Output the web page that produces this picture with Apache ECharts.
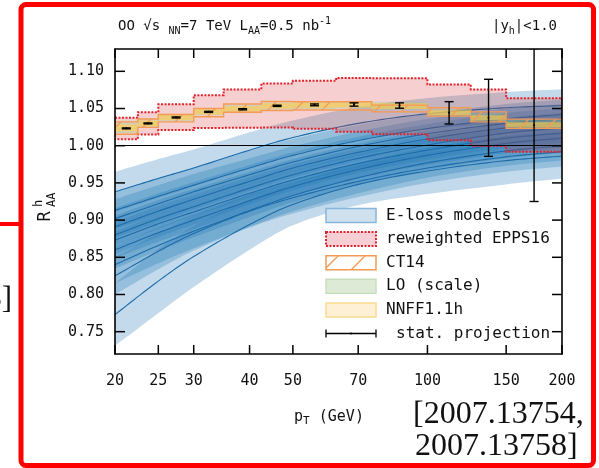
<!DOCTYPE html>
<html><head><meta charset="utf-8">
<script src="https://cdn.jsdelivr.net/npm/echarts@6/dist/echarts.min.js"></script>
<style>html,body{margin:0;padding:0;background:#fff}#c{width:599px;height:468px}</style>
</head><body><div id="c"></div>
<script>
// ---------- data ----------
const xMin = 20, xMax = 200, yMin = 0.72, yMax = 1.13;
const xTicks = [20, 25, 30, 40, 50, 70, 100, 150, 200];
const yTicks = [0.75, 0.80, 0.85, 0.90, 0.95, 1.00, 1.05, 1.10];
const refLine = 1.0;

// pT bins of the step bands
const binEdges = [20, 22.5, 25, 30, 35, 42.5, 50, 62.5, 75, 100, 125, 150, 200];
const eppsLo = [1.0086, 1.0150, 1.0210, 1.0238, 1.0240, 1.0245, 1.0228, 1.0188, 1.0155, 1.0072, 0.9996, 0.9918];
const eppsHi = [1.0375, 1.0451, 1.0556, 1.0679, 1.0757, 1.0836, 1.0872, 1.0911, 1.0908, 1.0822, 1.0757, 1.0639];
const ct14Lo = [1.0155, 1.0246, 1.0320, 1.0390, 1.0450, 1.0474, 1.0480, 1.0480, 1.0455, 1.0398, 1.0320, 1.0233];
const ct14Hi = [1.0320, 1.0360, 1.0420, 1.0500, 1.0560, 1.0595, 1.0590, 1.0590, 1.0545, 1.0510, 1.0455, 1.0357];
const loScaleLo = [1.0165, 1.0250, 1.0330, 1.0410, 1.0455, 1.0485, 1.0495, 1.0500, 1.0480, 1.0400, 1.0330, 1.0238];
const loScaleHi = [1.0335, 1.0370, 1.0430, 1.0485, 1.0550, 1.0580, 1.0590, 1.0590, 1.0590, 1.0495, 1.0440, 1.0350];
const nnffLo = [1.0195, 1.0262, 1.0345, 1.0420, 1.0460, 1.0500, 1.0510, 1.0515, 1.0495, 1.0410, 1.0340, 1.0245];
const nnffHi = [1.0285, 1.0340, 1.0415, 1.0490, 1.0530, 1.0570, 1.0580, 1.0585, 1.0570, 1.0475, 1.0410, 1.0315];

// stat. projection
const statPt  = [21.2, 23.7, 27.4, 32.4, 38.6, 46.1, 55.9, 68.5, 86.6, 111.8, 137.0, 173.2];
const statVal = [1.0233, 1.0300, 1.0380, 1.0455, 1.0490, 1.0536, 1.0549, 1.0554, 1.0540, 1.0442, 1.0375, 1.0277];
const statErr = [0.0006, 0.0006, 0.0007, 0.0007, 0.0008, 0.0008, 0.0012, 0.0022, 0.0036, 0.0150, 0.0518, 0.1027];

// E-loss models: central curve and half band width at these pT
const elossPt = [20, 25, 30, 40, 50, 70, 100, 150, 200];
const elossMidA = [0.938, 0.956, 0.970, 0.994, 1.011, 1.030, 1.043, 1.051, 1.054];
const elossErrA = [0.027, 0.026, 0.025, 0.024, 0.023, 0.022, 0.021, 0.021, 0.022];
const elossMidB = [0.913, 0.932, 0.947, 0.970, 0.987, 1.007, 1.023, 1.036, 1.042];
const elossErrB = [0.025, 0.025, 0.024, 0.023, 0.022, 0.021, 0.020, 0.020, 0.020];
const elossMidC = [0.902, 0.922, 0.938, 0.961, 0.978, 0.999, 1.016, 1.030, 1.036];
const elossErrC = [0.026, 0.025, 0.024, 0.022, 0.021, 0.020, 0.020, 0.020, 0.020];
const elossMidD = [0.891, 0.912, 0.928, 0.952, 0.970, 0.991, 1.009, 1.024, 1.030];
const elossErrD = [0.025, 0.024, 0.023, 0.022, 0.021, 0.021, 0.020, 0.020, 0.020];
const elossMidE = [0.880, 0.902, 0.918, 0.943, 0.961, 0.983, 1.001, 1.017, 1.024];
const elossErrE = [0.026, 0.025, 0.024, 0.022, 0.021, 0.020, 0.020, 0.020, 0.020];
const elossMidF = [0.873, 0.895, 0.911, 0.936, 0.954, 0.976, 0.994, 1.010, 1.017];
const elossErrF = [0.024, 0.024, 0.023, 0.022, 0.021, 0.020, 0.020, 0.020, 0.020];
const elossMidG = [0.860, 0.883, 0.900, 0.926, 0.945, 0.968, 0.987, 1.003, 1.010];
const elossErrG = [0.025, 0.024, 0.023, 0.022, 0.021, 0.021, 0.020, 0.020, 0.020];
const elossMidH = [0.840, 0.866, 0.885, 0.913, 0.933, 0.957, 0.977, 0.993, 1.000];
const elossErrH = [0.025, 0.024, 0.023, 0.022, 0.021, 0.021, 0.020, 0.020, 0.020];
const elossMidI = [0.825, 0.858, 0.882, 0.912, 0.930, 0.952, 0.970, 0.985, 0.992];
const elossErrI = [0.025, 0.024, 0.023, 0.022, 0.021, 0.021, 0.020, 0.020, 0.020];
const elossMidJ = [0.773, 0.818, 0.851, 0.894, 0.921, 0.948, 0.966, 0.980, 0.986];
const elossErrJ = [0.042, 0.043, 0.041, 0.034, 0.028, 0.028, 0.031, 0.032, 0.030];

// ---------- chart ----------
const FONT = 'DejaVu Sans Mono';
const models = [
  [elossMidA, elossErrA], [elossMidB, elossErrB], [elossMidC, elossErrC], [elossMidD, elossErrD],
  [elossMidE, elossErrE], [elossMidF, elossErrF], [elossMidG, elossErrG], [elossMidH, elossErrH],
  [elossMidI, elossErrI], [elossMidJ, elossErrJ]
];

function hatchCanvas() {
  const c = document.createElement('canvas');
  c.width = 27; c.height = 27;
  const g = c.getContext('2d');
  g.strokeStyle = '#f39a55'; g.lineWidth = 1.3;
  g.beginPath(); g.moveTo(-2, 29); g.lineTo(29, -2); g.stroke();
  return c;
}
const hatch = { image: hatchCanvas(), repeat: 'repeat' };

// smooth curve through pixel points (cubic Hermite, rendering only)
function smoothPixels(p, steps) {
  const N = p.length, out = [];
  const sl = [];
  for (let i = 0; i < N - 1; i++) sl.push((p[i + 1][1] - p[i][1]) / (p[i + 1][0] - p[i][0]));
  const m = p.map((q, i) => i === 0 ? sl[0] : (i === N - 1 ? sl[N - 2] :
    (p[i + 1][1] - p[i - 1][1]) / (p[i + 1][0] - p[i - 1][0])));
  for (let i = 0; i < N - 1; i++) {
    const x0 = p[i][0], y0 = p[i][1], x1 = p[i + 1][0], y1 = p[i + 1][1], h = x1 - x0;
    for (let s = 0; s < steps; s++) {
      const t = s / steps, t2 = t * t, t3 = t2 * t;
      const y = (2 * t3 - 3 * t2 + 1) * y0 + (t3 - 2 * t2 + t) * h * m[i] + (-2 * t3 + 3 * t2) * y1 + (t3 - t2) * h * m[i + 1];
      out.push([x0 + t * h, y]);
    }
  }
  out.push(p[N - 1].slice());
  return out;
}

const series = [];
// E-loss bands
series.push({
  type: 'custom', z: 1, clip: true, silent: true,
  data: models.map(m => [elossPt[0], m[0][0]]), encode: { x: 0, y: 1 },
  renderItem: function (params, api) {
    const mid = models[params.dataIndex][0], err = models[params.dataIndex][1];
    const up = smoothPixels(elossPt.map((x, i) => api.coord([x, mid[i] + err[i]])), 12);
    const dn = smoothPixels(elossPt.map((x, i) => api.coord([x, mid[i] - err[i]])), 12).reverse();
    return { type: 'polygon', shape: { points: up.concat(dn) }, style: { fill: 'rgba(31,119,180,0.27)' } };
  }
});
// E-loss central curves
series.push({
  type: 'custom', z: 2, clip: true, silent: true,
  data: models.map(m => [elossPt[0], m[0][0]]), encode: { x: 0, y: 1 },
  renderItem: function (params, api) {
    const mid = models[params.dataIndex][0];
    const pts = smoothPixels(elossPt.map((x, i) => api.coord([x, mid[i]])), 12);
    return { type: 'polyline', shape: { points: pts }, style: { stroke: '#1d6cab', lineWidth: 1.1, fill: null } };
  }
});

function stepBand(lo, hi, z, style) {
  series.push({
    type: 'custom', z: z, clip: true, silent: true,
    data: [[binEdges[0], lo[0]]], encode: { x: 0, y: 1 },
    renderItem: function (params, api) {
      const top = [], bot = [];
      for (let i = 0; i < lo.length; i++) {
        top.push(api.coord([binEdges[i], hi[i]]), api.coord([binEdges[i + 1], hi[i]]));
        bot.push(api.coord([binEdges[i], lo[i]]), api.coord([binEdges[i + 1], lo[i]]));
      }
      return { type: 'polygon', shape: { points: top.concat(bot.reverse()) }, style: style };
    }
  });
}
stepBand(eppsLo, eppsHi, 3, { fill: 'rgba(214,39,40,0.22)', stroke: '#e3212b', lineWidth: 2, lineDash: [2, 1.5] });
stepBand(loScaleLo, loScaleHi, 4, { fill: 'rgba(150,200,140,0.35)' });
stepBand(nnffLo, nnffHi, 5, { fill: 'rgba(255,205,70,0.6)' });
stepBand(ct14Lo, ct14Hi, 6, { fill: hatch, stroke: '#f39a55', lineWidth: 1.4 });

series.push({
  type: 'custom', z: 10, clip: true, silent: true,
  data: statPt.map((x, i) => [x, statVal[i], statErr[i]]),
  encode: { x: 0, y: 1 },
  renderItem: function (params, api) {
    const x = api.value(0), y = api.value(1), e = api.value(2);
    const c = api.coord([x, y]), t = api.coord([x, y + e]), b = api.coord([x, y - e]);
    const hw = 4.5, st = { stroke: '#000', lineWidth: 1.4 };
    return { type: 'group', children: [
      { type: 'line', shape: { x1: c[0], y1: t[1], x2: c[0], y2: b[1] }, style: st },
      { type: 'line', shape: { x1: c[0] - hw, y1: t[1], x2: c[0] + hw, y2: t[1] }, style: st },
      { type: 'line', shape: { x1: c[0] - hw, y1: b[1], x2: c[0] + hw, y2: b[1] }, style: st },
      { type: 'circle', shape: { cx: c[0], cy: c[1], r: 1 }, style: { fill: '#000' } }
    ] };
  },
  markLine: {
    silent: true, symbol: ['none', 'none'], label: { show: false }, animation: false,
    lineStyle: { color: '#000', width: 1, type: 'solid' }, data: [{ yAxis: refLine }]
  }
});

const axisLine = { show: true, onZero: false, lineStyle: { color: '#000', width: 1.6 } };
function xAx(pos, labels) {
  return {
    type: 'log', logBase: 10, min: xMin, max: xMax, position: pos, z: 20,
    axisLine: axisLine, axisTick: { show: false },
    minorTick: { show: false }, splitLine: { show: false },
    axisLabel: { show: labels, customValues: xTicks, margin: 20, color: '#111',
      fontFamily: FONT, fontSize: 15, formatter: v => String(Math.round(v)) }
  };
}
function yAx(pos, labels) {
  return {
    type: 'value', min: yMin, max: yMax, position: pos, z: 20,
    axisLine: axisLine, axisTick: { show: false },
    splitLine: { show: false },
    axisLabel: { show: labels, customValues: yTicks, margin: 11, color: '#111',
      fontFamily: FONT, fontSize: 15, formatter: v => v.toFixed(2) }
  };
}

function txt(x, y, text, font, align, extra) {
  return Object.assign({ type: 'text', x: x, y: y, z: 100,
    style: { text: text, font: font, fill: '#111', align: align, verticalAlign: 'middle',
      textAlign: align, textVerticalAlign: 'middle' } }, extra || {});
}
function richTxt(x, y, text, size, align) {
  return { type: 'text', x: x, y: y, z: 100, style: {
    text: text, align: align, verticalAlign: 'middle', textAlign: align, textVerticalAlign: 'middle',
    fill: '#111', font: size + 'px ' + FONT,
    rich: {
      m: { fontFamily: FONT, fontSize: size, lineHeight: 20, fill: '#111' },
      sub: { fontFamily: FONT, fontSize: size - 4, lineHeight: 10, verticalAlign: 'bottom', fill: '#111' },
      sup: { fontFamily: FONT, fontSize: size - 4, lineHeight: 10, verticalAlign: 'top', fill: '#111' }
    } } };
}

const LX = 326, LW = 50, LH = 14, LT = 386, LY0 = 215.5, LDY = 23.6;
const legendRows = [
  { label: 'E-loss models', fill: '#cfe1ef', stroke: '#86b6dc', dash: null, lw: 1.5 },
  { label: 'reweighted EPPS16', fill: '#f6ced3', stroke: '#e3212b', dash: [2, 1.5], lw: 2 },
  { label: 'CT14', fill: hatch, stroke: '#f39a55', dash: null, lw: 1.5 },
  { label: 'LO (scale)', fill: '#ddebd6', stroke: '#c8e0bf', dash: null, lw: 1.5 },
  { label: 'NNFF1.1h', fill: '#fdf0d4', stroke: '#f9dc90', dash: null, lw: 1.5 }
];
const graphics = [];
legendRows.forEach((r, i) => {
  const cy = LY0 + i * LDY;
  graphics.push({ type: 'rect', z: 100, shape: { x: LX, y: cy - LH / 2, width: LW, height: LH },
    style: { fill: r.fill, stroke: r.stroke, lineWidth: r.lw, lineDash: r.dash } });
  graphics.push(txt(LT, cy, r.label, '16px ' + FONT, 'left'));
});
const sy = LY0 + 5 * LDY;
graphics.push({ type: 'line', z: 100, shape: { x1: LX, y1: sy, x2: LX + LW, y2: sy }, style: { stroke: '#000', lineWidth: 1.3 } });
graphics.push({ type: 'line', z: 100, shape: { x1: LX, y1: sy - 4, x2: LX, y2: sy + 4 }, style: { stroke: '#000', lineWidth: 1.3 } });
graphics.push({ type: 'line', z: 100, shape: { x1: LX + LW, y1: sy - 4, x2: LX + LW, y2: sy + 4 }, style: { stroke: '#000', lineWidth: 1.3 } });
graphics.push({ type: 'circle', z: 100, shape: { cx: LX + LW / 2, cy: sy, r: 1 }, style: { fill: '#000' } });
graphics.push(txt(396, sy, 'stat. projection', '16px ' + FONT, 'left'));

// titles and axis names
graphics.push(richTxt(118, 26, '{m|OO √s }{sub|NN}{m|=7 TeV L}{sub|AA}{m|=0.5 nb}{sup|-1}', 14, 'left'));
graphics.push(richTxt(557, 26, '{m||y}{sub|h}{m||<1.0}', 14, 'right'));
graphics.push(richTxt(329, 417, '{m|p}{sub|T}{m| (GeV)}', 15, 'center'));
graphics.push({ type: 'group', x: 46, y: 207, rotation: Math.PI / 2, z: 100, children: [
  txt(-9.5, 0, 'R', '17px ' + FONT, 'center'),
  txt(0, -7, 'h', '12px ' + FONT, 'left'),
  txt(0, 5.5, 'AA', '12px ' + FONT, 'left')
] });

// slide annotation around the figure
graphics.push({ type: 'rect', z: 120, shape: { x: 21, y: 4.5, width: 572.5, height: 461, r: 5 },
  style: { fill: 'none', stroke: '#ff0000', lineWidth: 5 } });
graphics.push({ type: 'line', z: 120, shape: { x1: 0, y1: 224, x2: 21, y2: 224 }, style: { stroke: '#ff0000', lineWidth: 4 } });
graphics.push(txt(12, 300, '3]', '31px "Liberation Serif"', 'right', { z: 120 }));
graphics.push(txt(413, 415, '[2007.13754,', '32px "Liberation Serif"', 'left', { z: 120 }));
graphics.push(txt(415, 447, '2007.13758]', '32px "Liberation Serif"', 'left', { z: 120 }));

const chart = echarts.init(document.getElementById('c'), null, { renderer: 'canvas' });
chart.setOption({
  animation: false,
  backgroundColor: '#fff',
  grid: { left: 115, top: 49, width: 447, height: 305, containLabel: false, outerBoundsMode: 'none' },
  xAxis: [xAx('bottom', true), xAx('top', false)],
  yAxis: [yAx('left', true), yAx('right', false)],
  series: series,
  graphic: graphics
});

// inward ticks on all four sides, positioned through the chart's own axis scales
try {
  const tk = [], st = { stroke: '#000', lineWidth: 1.5 };
  const px = v => chart.convertToPixel({ gridIndex: 0 }, v);
  xTicks.forEach(v => {
    const b = px([v, yMin]), t = px([v, yMax]);
    tk.push({ type: 'line', z: 110, shape: { x1: b[0], y1: b[1], x2: b[0], y2: b[1] - 9 }, style: st });
    tk.push({ type: 'line', z: 110, shape: { x1: t[0], y1: t[1], x2: t[0], y2: t[1] + 9 }, style: st });
  });
  yTicks.forEach(v => {
    const l = px([xMin, v]), r = px([xMax, v]);
    tk.push({ type: 'line', z: 110, shape: { x1: l[0], y1: l[1], x2: l[0] + 10, y2: l[1] }, style: st });
    tk.push({ type: 'line', z: 110, shape: { x1: r[0], y1: r[1], x2: r[0] - 10, y2: r[1] }, style: st });
  });
  chart.setOption({ graphic: graphics.concat(tk) });
} catch (e) {
  chart.setOption({ xAxis: [{ axisTick: { show: true, inside: true, length: 9, customValues: xTicks } }],
                    yAxis: [{ axisTick: { show: true, inside: true, length: 10, customValues: yTicks } }] });
}
</script></body></html>
